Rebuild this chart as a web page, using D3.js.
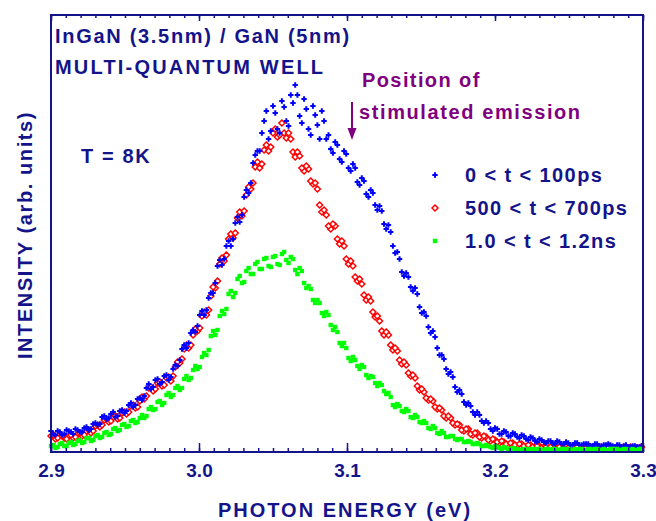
<!DOCTYPE html>
<html>
<head>
<meta charset="utf-8">
<script src="https://cdn.jsdelivr.net/npm/d3@7"></script>
<style>
body { margin: 0; background: #fff; }
svg { display: block; }
text { font-family: "Liberation Sans", Arial, sans-serif; font-weight: bold; }
</style>
</head>
<body>
<div class="canvas"></div>
<script>
// photon energy (eV) of the spectral points, two interleaved scans
const energy = [
    2.900,2.903,2.906,2.909,2.912,2.915,2.918,2.921,2.924,2.927,
    2.930,2.933,2.936,2.939,2.942,2.945,2.948,2.951,2.954,2.957,
    2.960,2.963,2.966,2.969,2.972,2.975,2.978,2.981,2.984,2.987,
    2.990,2.993,2.996,2.999,3.002,3.005,3.008,3.011,3.014,3.017,
    3.020,3.023,3.026,3.029,3.032,3.035,3.038,3.041,3.044,3.047,
    3.050,3.053,3.056,3.059,3.062,3.065,3.068,3.071,3.074,3.077,
    3.080,3.083,3.086,3.089,3.092,3.095,3.098,3.101,3.104,3.107,
    3.110,3.113,3.116,3.119,3.122,3.125,3.128,3.131,3.134,3.137,
    3.140,3.143,3.146,3.149,3.152,3.155,3.158,3.161,3.164,3.167,
    3.170,3.173,3.176,3.179,3.182,3.185,3.188,3.191,3.194,3.197,
    3.200,3.203,3.206,3.209,3.212,3.215,3.218,3.221,3.224,3.227,
    3.230,3.233,3.236,3.239,3.242,3.245,3.248,3.251,3.254,3.257,
    3.260,3.263,3.266,3.269,3.272,3.275,3.278,3.281,3.284,3.287,
    3.290,3.293,3.296,3.299
]
const energy2 = [
    2.9015,2.9045,2.9075,2.9105,2.9135,2.9165,2.9195,2.9225,2.9255,2.9285,
    2.9315,2.9345,2.9375,2.9405,2.9435,2.9465,2.9495,2.9525,2.9555,2.9585,
    2.9615,2.9645,2.9675,2.9705,2.9735,2.9765,2.9795,2.9825,2.9855,2.9885,
    2.9915,2.9945,2.9975,3.0005,3.0035,3.0065,3.0095,3.0125,3.0155,3.0185,
    3.0215,3.0245,3.0275,3.0305,3.0335,3.0365,3.0395,3.0425,3.0455,3.0485,
    3.0515,3.0545,3.0575,3.0605,3.0635,3.0665,3.0695,3.0725,3.0755,3.0785,
    3.0815,3.0845,3.0875,3.0905,3.0935,3.0965,3.0995,3.1025,3.1055,3.1085,
    3.1115,3.1145,3.1175,3.1205,3.1235,3.1265,3.1295,3.1325,3.1355,3.1385,
    3.1415,3.1445,3.1475,3.1505,3.1535,3.1565,3.1595,3.1625,3.1655,3.1685,
    3.1715,3.1745,3.1775,3.1805,3.1835,3.1865,3.1895,3.1925,3.1955,3.1985,
    3.2015,3.2045,3.2075,3.2105,3.2135,3.2165,3.2195,3.2225,3.2255,3.2285,
    3.2315,3.2345,3.2375,3.2405,3.2435,3.2465,3.2495,3.2525,3.2555,3.2585,
    3.2615,3.2645,3.2675,3.2705,3.2735,3.2765,3.2795,3.2825,3.2855,3.2885,
    3.2915,3.2945,3.2975
]

// intensity (arb. units), 0 < t < 100ps
const early = [
    20,16,19,17,20,17,21,19,24,22,
    28,27,35,33,39,35,41,40,48,46,
    53,55,67,64,72,69,76,74,86,91,
    106,108,121,125,140,141,158,168,191,192,
    210,212,234,236,261,268,296,300,330,312,
    345,322,350,330,356,366,335,352,322,345,
    326,340,312,302,309,292,300,283,287,269,
    273,257,261,246,245,227,226,205,199,179,
    178,164,163,144,139,124,120,103,96,82,
    79,64,61,49,48,39,39,30,30,22,
    23,17,20,15,18,14,16,12,14,10,
    12,9,10,8,10,7,9,6,8,6,
    7,7,5,7,5,6,6,4,6,5,
    4,5,4,5
]
const early2 = [
    17,20,16,21,19,22,19,23,21,27,
    26,34,32,37,34,40,38,46,44,52,
    51,63,62,71,67,75,71,82,85,102,
    103,118,119,136,136,153,158,185,186,205,
    205,228,229,254,258,288,300,318,340,320,
    338,318,344,325,348,356,328,342,316,336,
    312,330,316,298,306,289,297,280,283,266,
    270,254,258,241,240,222,219,198,192,175,
    174,160,157,138,135,118,114,96,92,77,
    74,59,57,46,45,36,36,28,28,20,
    22,17,19,15,17,13,15,11,13,9,
    11,8,10,7,9,7,8,6,8,6,
    7,5,7,5,6,7,5,6,4,6,
    4,5,4
]

// 500 < t < 700ps
const middle = [
    15,12,16,13,15,13,17,15,20,18,
    25,24,31,29,34,32,38,37,45,43,
    50,52,63,60,68,65,73,70,84,88,
    102,103,116,120,135,136,155,163,187,190,
    212,213,233,235,256,262,284,283,301,300,
    318,314,328,313,312,294,295,280,282,267,
    262,239,236,222,225,207,205,187,185,170,
    167,151,150,134,130,116,116,101,100,87,
    86,75,73,61,59,51,50,42,41,33,
    33,26,26,20,22,16,18,13,14,10,
    11,8,9,6,8,5,7,4,6,4,
    5,4,3,4,3,4,4,3,4,3,
    3,4,3,4,3,3,4,3,3,4,
    3,3,3,4
]
const middle2 = [
    16,13,15,12,16,14,18,16,21,20,
    26,26,32,30,35,33,39,39,46,44,
    54,55,64,62,69,66,74,75,89,92,
    106,106,122,123,139,141,164,170,193,196,
    217,218,239,240,264,268,289,287,306,304,
    322,316,318,318,299,299,283,285,270,268,
    246,241,225,227,212,210,192,190,174,172,
    156,154,139,135,120,119,106,103,91,89,
    78,76,65,62,53,52,44,43,35,35,
    28,27,21,22,17,18,14,15,11,12,
    9,10,7,8,6,7,5,6,4,5,
    3,4,4,3,4,3,3,4,4,3,
    3,4,3,4,4,3,3,4,3,3,
    4,3,3
]

// 1.0 < t < 1.2ns
const late = [
    5,3,7,5,8,6,10,8,13,10,
    15,13,18,16,22,20,26,24,30,28,
    33,33,42,41,49,46,56,54,63,61,
    72,71,81,82,94,96,115,116,135,137,
    157,154,172,168,180,177,187,182,192,185,
    194,187,197,191,194,181,183,168,165,151,
    151,138,139,126,124,108,108,93,94,85,
    86,76,75,68,68,60,58,46,47,40,
    42,34,36,29,30,23,25,18,20,14,
    15,12,12,9,10,7,8,5,6,4,
    5,3,4,2,3,2,1,2,2,1,
    2,1,2,2,1,2,1,1,2,2,
    1,2,1,2,1,1,2,2,1,2,
    1,2,1,2
]
const late2 = [
    6,4,8,5,9,7,11,9,13,11,
    16,14,19,17,23,21,27,25,31,29,
    36,35,44,42,50,48,58,56,65,63,
    75,73,85,84,98,101,120,121,140,142,
    160,158,175,169,183,177,189,182,193,184,
    195,186,199,188,192,177,180,163,162,148,
    148,135,136,121,119,105,103,90,91,82,
    84,73,74,65,66,57,54,44,45,39,
    40,33,34,28,28,22,23,17,18,14,
    15,11,12,9,9,7,7,5,5,3,
    4,2,3,2,2,1,2,1,2,2,
    1,2,1,2,1,2,2,1,1,2,
    1,2,2,1,2,1,2,2,1,2,
    1,1,2
]

const seriesNames = ["0 < t < 100ps", "500 < t < 700ps", "1.0 < t < 1.2ns"]
const xTicks = [2.9, 3.0, 3.1, 3.2, 3.3]
const xMinorStep = 0.01

const navy = "#14148a"
const purple = "#800080"

const width = 656
const height = 521
const margin = { top: 15, right: 13, bottom: 69, left: 51 }
const graphWidth = width - margin.left - margin.right
const graphHeight = height - margin.top - margin.bottom

const svg = d3.select(".canvas")
    .append("svg")
    .attr("width", width)
    .attr("height", height)

const graph = svg.append("g")
    .attr("transform", `translate(${margin.left}, ${margin.top})`)

const scaleX = d3.scaleLinear()
    .domain([2.9, 3.3])
    .range([0, graphWidth])

const scaleY = d3.scaleLinear()
    .domain([0, 436])
    .range([graphHeight - 1, 0])

// marker shapes, one per series
const markers = [
    (g, color) => g.append("path")
        .attr("d", "M-2.7,0H2.7M0,-2.7V2.7")
        .attr("stroke", color)
        .attr("stroke-width", 2)
        .attr("fill", "none"),
    (g, color) => g.append("path")
        .attr("d", "M0,-3L3,0L0,3L-3,0Z")
        .attr("stroke", color)
        .attr("stroke-width", 1.5)
        .attr("fill", "#fff"),
    (g, color) => g.append("rect")
        .attr("x", -2.2).attr("y", -2.2)
        .attr("width", 4.4).attr("height", 4.4)
        .attr("fill", color)
]
const colors = ["#0000ff", "#ff0000", "#00ff00"]

const scans = [[early, early2], [middle, middle2], [late, late2]]
const series = scans.map((sc, k) => ({
    name: seriesNames[k],
    color: colors[k],
    marker: markers[k],
    points: energy.map((e, i) => ({ e: e, v: sc[0][i] }))
        .concat(energy2.map((e, i) => ({ e: e, v: sc[1][i] })))
}))

// draw order: red, blue, green
const drawOrder = [1, 0, 2]
drawOrder.forEach(k => {
    const s = series[k]
    graph.append("g")
        .selectAll("g")
        .data(s.points)
        .enter()
        .append("g")
        .attr("transform", d => `translate(${scaleX(d.e)}, ${scaleY(d.v)})`)
        .each(function () { s.marker(d3.select(this), s.color) })
})

// axes
const minorTicks = d3.range(0, 41).map(i => 2.9 + i * xMinorStep)

graph.append("g")
    .attr("transform", `translate(0, ${graphHeight})`)
    .call(d3.axisBottom(scaleX).tickValues(minorTicks).tickSize(-4).tickFormat(""))
const xMajorBottom = graph.append("g")
    .attr("transform", `translate(0, ${graphHeight})`)
    .call(d3.axisBottom(scaleX).tickValues(xTicks).tickSize(-9).tickPadding(12).tickFormat(d3.format(".1f")))
graph.append("g")
    .call(d3.axisTop(scaleX).tickValues(minorTicks).tickSize(-3).tickFormat(""))
graph.append("g")
    .call(d3.axisTop(scaleX).tickValues(xTicks).tickSize(-6).tickFormat(""))

graph.selectAll(".domain").remove()
graph.selectAll(".tick line").attr("stroke", navy).attr("stroke-width", 1.5)
xMajorBottom.selectAll("text")
    .attr("fill", navy)
    .attr("font-size", 19)
    .attr("font-family", "Liberation Sans, Arial, sans-serif")
    .attr("font-weight", "bold")

graph.append("rect")
    .attr("width", graphWidth)
    .attr("height", graphHeight)
    .attr("fill", "none")
    .attr("stroke", navy)
    .attr("stroke-width", 2)

// axis titles
svg.append("text")
    .attr("x", 345)
    .attr("y", 517)
    .attr("text-anchor", "middle")
    .attr("font-size", 20)
    .attr("letter-spacing", 2)
    .attr("fill", navy)
    .text("PHOTON ENERGY (eV)")

svg.append("text")
    .attr("transform", "translate(32, 235) rotate(-90)")
    .attr("text-anchor", "middle")
    .attr("font-size", 20)
    .attr("letter-spacing", 1.6)
    .attr("fill", navy)
    .text("INTENSITY (arb. units)")

// sample description
const notes = [
    { t: "InGaN (3.5nm) / GaN (5nm)", x: 55, y: 43, ls: 1.7 },
    { t: "MULTI-QUANTUM WELL", x: 55, y: 74, ls: 2.2 },
    { t: "T = 8K", x: 81, y: 163, ls: 1.6 }
]
svg.selectAll(".note")
    .data(notes)
    .enter()
    .append("text")
    .attr("class", "note")
    .attr("x", d => d.x)
    .attr("y", d => d.y)
    .attr("font-size", 20)
    .attr("letter-spacing", d => d.ls)
    .attr("fill", navy)
    .text(d => d.t)

// stimulated emission marker
svg.append("text")
    .attr("x", 362).attr("y", 87)
    .attr("font-size", 20).attr("letter-spacing", 1.4)
    .attr("fill", purple)
    .text("Position of")
svg.append("text")
    .attr("x", 359).attr("y", 119)
    .attr("font-size", 20).attr("letter-spacing", 1.6)
    .attr("fill", purple)
    .text("stimulated emission")
svg.append("line")
    .attr("x1", 352).attr("x2", 352)
    .attr("y1", 102).attr("y2", 130)
    .attr("stroke", purple).attr("stroke-width", 2)
svg.append("path")
    .attr("d", "M347.5,128L356.5,128L352,140Z")
    .attr("fill", purple)

// legend
const rows = svg.append("g")
    .selectAll("g")
    .data(series)
    .enter()
    .append("g")
    .attr("transform", (d, i) => `translate(435, ${175 + i * 33})`)
rows.each(function (d) { d.marker(d3.select(this), d.color) })
rows.append("text")
    .attr("x", 30)
    .attr("y", 7)
    .attr("font-size", 20)
    .attr("letter-spacing", 1.4)
    .attr("fill", navy)
    .text(d => d.name)
</script>
</body>
</html>
